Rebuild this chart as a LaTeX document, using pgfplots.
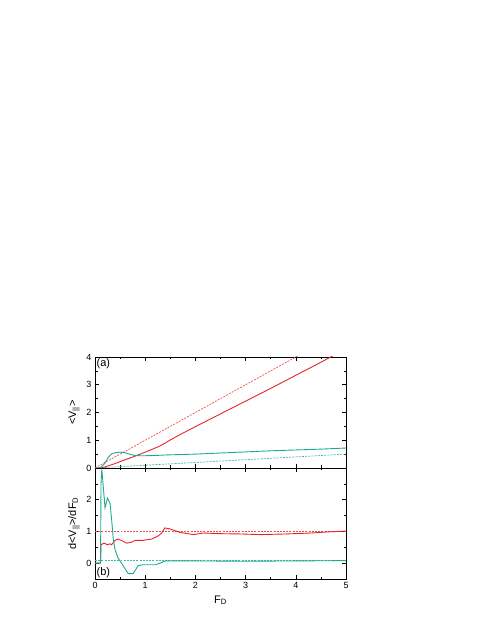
\documentclass[border=0pt]{standalone}
\usepackage{fontspec}
\setmainfont{Liberation Sans}
\usepackage{pgfplots}
\pgfplotsset{compat=1.18}
\definecolor{redline}{RGB}{232,35,40}
\definecolor{tealline}{RGB}{30,170,145}

\begin{document}
\begin{tikzpicture}
\useasboundingbox (0bp,0bp) rectangle (485bp,627bp);
\pgfplotsset{panel/.style={
  scale only axis, width=251bp, height=111bp,
  xmin=0, xmax=5, xtick={0,...,5},
  minor x tick num=1, minor y tick num=1,
  tick align=inside, major tick length=4bp, minor tick length=2.5bp,
  axis line style={line width=0.7pt},
  every tick/.style={black, line width=0.6pt},
  tick label style={font=\fontsize{9}{10}\selectfont},
  label style={font=\fontsize{11}{12}\selectfont},
  /pgf/number format/assume math mode=true,
}}
\pgfplotsset{solidline/.style={line width=0.9pt, mark=none},
             dashline/.style={line width=0.7pt, dash pattern=on 2pt off 1.2pt, mark=none}}

% (a) upper panel
\begin{axis}[panel, at={(95bp,159bp)}, anchor=south west,
  ymin=0, ymax=4, ytick={0,...,4}, xticklabels=\empty,
  ylabel={<V\textsubscript{||}>}]
\addplot[dashline, redline!80] coordinates {(0,0) (5,5)};
\addplot[dashline, tealline!85] coordinates {(0,0) (5,0.5)};
\addplot[solidline, redline] coordinates {
  (0,0) (0.12,0) (0.2,0.04) (0.3,0.1) (0.4,0.16) (0.5,0.23) (0.6,0.3) (0.7,0.36)
  (0.8,0.43) (1.0,0.57) (1.2,0.72) (1.3,0.8) (1.4,0.9) (1.5,1.01) (1.7,1.21)
  (2.0,1.49) (2.5,1.95) (3.0,2.41) (3.5,2.87) (4.0,3.34) (4.5,3.81) (5.0,4.3)};
\addplot[solidline, tealline] coordinates {
  (0,0) (0.1,0) (0.15,0.08) (0.2,0.18) (0.27,0.4) (0.33,0.51) (0.4,0.55) (0.5,0.57)
  (0.6,0.55) (0.7,0.49) (0.8,0.45) (0.93,0.44) (1.2,0.45) (1.4,0.47) (2.0,0.5)
  (2.5,0.54) (3.0,0.58) (3.5,0.62) (4.0,0.65) (4.5,0.68) (5.0,0.72)};
\node[anchor=north west, inner sep=1.5bp, font=\fontsize{11}{12}\selectfont] at (rel axis cs:0,1) {(a)};
\end{axis}

% (b) lower panel
\begin{axis}[panel, at={(95bp,48bp)}, anchor=south west,
  ymin=-0.5, ymax=3, ytick={0,1,2,3}, yticklabels={0,1,2,},
  xlabel={F\textsubscript{D}},
  ylabel={d<V\textsubscript{||}>/dF\textsubscript{D}}]
\addplot[dashline, redline!80] coordinates {(0,1) (5,1)};
\addplot[dashline, tealline!85] coordinates {(0,0.1) (5,0.1)};
\addplot[solidline, redline] coordinates {
  (0,0) (0.11,0) (0.12,0.58) (0.18,0.63) (0.25,0.58) (0.3,0.61) (0.33,0.58)
  (0.4,0.72) (0.46,0.76) (0.56,0.69) (0.63,0.63) (0.73,0.66) (0.8,0.72) (0.96,0.72)
  (1.13,0.76) (1.26,0.86) (1.33,0.95) (1.39,1.11) (1.49,1.08) (1.69,0.97) (1.96,0.9)
  (2.16,0.95) (2.49,0.93) (2.9,0.92) (3.3,0.9) (3.8,0.92) (4.3,0.95) (4.7,0.99) (5,1.01)};
\addplot[solidline, tealline] coordinates {
  (0,0) (0.11,0) (0.12,2.5) (0.135,2.95) (0.15,2.7) (0.2,1.74) (0.25,2.05) (0.3,1.88)
  (0.33,1.4) (0.365,0.74) (0.4,0.42) (0.46,0.16) (0.55,-0.05) (0.66,-0.33) (0.76,-0.33)
  (0.86,-0.08) (0.95,-0.05) (1.2,-0.05) (1.3,0) (1.4,0.07) (2,0.07) (3,0.06) (4,0.07) (5,0.08)};
\node[anchor=south west, inner sep=1.5bp, font=\fontsize{11}{12}\selectfont] at (rel axis cs:0,0) {(b)};
\end{axis}
\end{tikzpicture}
\end{document}
